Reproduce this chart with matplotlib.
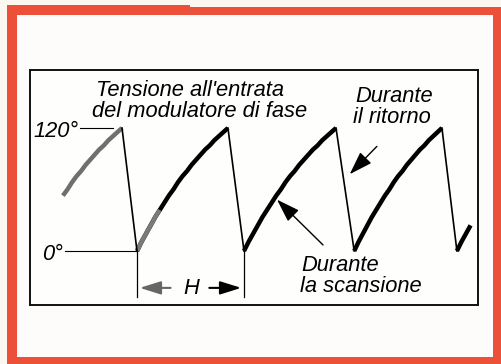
import matplotlib.pyplot as plt
from matplotlib.patches import Rectangle
from matplotlib import font_manager as fm

# one sweep of the sawtooth:
# fraction of the rise time -> phase in degrees (same shape every cycle)
rise_frac = [0, .05, .10, .15, .20, .25, .30, .35, .40, .45, .50,
             .55, .60, .65, .70, .75, .80, .85, .90, .95, 1.0]
rise_v = [0, 9, 17, 25, 33, 40, 47, 54, 60, 67, 73,
          78, 84, 89, 94, 99, 103, 108, 112, 116, 120]

# time in units of H (0 = first trough under the H bracket)
trough_t = [-0.99, 0.00, 1.00, 2.03, 2.99]
peak_t = [-0.14, 0.85, 1.86, 2.85, 3.84]
first_visible = 7    # first sweep enters the box part way up
last_visible = 4     # last sweep is cut by the box edge
arc_colors = ['#6f6f6f', 'black', 'black', 'black', 'black']

level_deg = [120, 0]
level_labels = ['120°', '0°']
level_from = [-0.53, -0.67]   # little reference lines
level_to = [-0.22, 0.0]

H_start, H_end = 0.0, 1.0

title_lines = ["Tensione all'entrata", "del modulatore di fase"]
note_retrace = ['Durante', 'il ritorno']
note_scan = ['Durante', 'la scansione']

RED = '#ec5039'


def has_italic(fam):
    try:
        p = fm.findfont(fm.FontProperties(family=fam, style='italic'),
                        fallback_to_default=False).lower()
    except Exception:
        return False
    return 'italic' in p or 'oblique' in p


# narrowish italic lettering, first one that really has an italic
fam = 'DejaVu Sans'
for cand in ['Liberation Sans', 'Roboto', 'Lato']:
    if has_italic(cand):
        fam = cand
        break
txt = dict(family=fam, style='italic', fontsize=16)

fig = plt.figure(figsize=(5.02, 3.64), dpi=100)
fig.patch.set_facecolor('#fbf8f1')

# red frame of the page (pixel units from top left)
W, Hp = 502.0, 364.0
def fig_rect(x0, y0, x1, y1, **kw):
    fig.patches.append(Rectangle((x0 / W, 1 - y1 / Hp), (x1 - x0) / W, (y1 - y0) / Hp,
                                 transform=fig.transFigure, zorder=-1, **kw))

fig_rect(17, 15, 493, 357, color='#fdfcfa')
fig_rect(7, 5, 190, 15, color=RED, lw=0)
fig_rect(190, 7, 501, 15, color=RED, lw=0)
fig_rect(7, 5, 17, 364, color=RED, lw=0)
fig_rect(493, 7, 501, 364, color=RED, lw=0)
fig_rect(7, 357, 501, 364, color=RED, lw=0)

# inner box = the axes
ax = fig.add_axes([30 / W, 1 - 305 / Hp, 448 / W, 235 / Hp])
ax.set_facecolor('#fefefd')
ax.set_xlim(-1.0, 3.187)
ax.set_ylim(-52.7, 176.6)
ax.set_xticks([])
ax.set_yticks([])
for s in ax.spines.values():
    s.set_linewidth(1.4)
    s.set_color('#111111')

# scan (thick) and retrace (thin)
arcs = []
for i, (t0, t1) in enumerate(zip(trough_t, peak_t)):
    t = [t0 + f * (t1 - t0) for f in rise_frac]
    v = list(rise_v)
    if i == 0:
        t, v = t[first_visible:], v[first_visible:]
    if i == len(trough_t) - 1:
        t, v = t[:last_visible], v[:last_visible]
    arcs.append((t, v))
    ax.plot(t, v, color=arc_colors[i], lw=3.2, solid_capstyle='butt',
            solid_joinstyle='round')
# the start of the second sweep also printed grey
ax.plot(arcs[1][0][:6], arcs[1][1][:6], color='#7a7a7a', lw=3.2, solid_capstyle='butt')

for i in range(len(arcs) - 1):
    ax.plot([arcs[i][0][-1], arcs[i + 1][0][0]], [arcs[i][1][-1], arcs[i + 1][1][0]],
            color='black', lw=1.2)

texts = []
# reference levels
for lv, lab, x0, x1 in zip(level_deg, level_labels, level_from, level_to):
    ax.plot([x0, x1], [lv, lv], color='black', lw=0.8)
    texts.append(ax.text(x0 - 0.02, lv - 3, lab, ha='right', va='center', **txt))

# period H
for x in (H_start, H_end):
    ax.plot([x, x], [0, -45], color='black', lw=0.9)
ahead = '-|>,head_length=0.8,head_width=0.25'
ax.annotate('', xy=(H_start, -36), xytext=(0.34, -36),
            arrowprops=dict(arrowstyle=ahead, color='#666666', lw=1.5, mutation_scale=16))
ax.annotate('', xy=(H_end, -36), xytext=(0.65, -36),
            arrowprops=dict(arrowstyle=ahead, color='black', lw=1.5, mutation_scale=16))
texts.append(ax.text(0.51, -37, 'H', ha='center', va='center', **txt))

# labels
title = ax.text(-0.383, 151, title_lines[0], va='baseline', **txt)
texts.append(title)
texts.append(ax.text(-0.42, 130.5, title_lines[1], va='baseline', **txt))
texts.append(ax.text(2.04, 145.5, note_retrace[0], va='baseline', **txt))
texts.append(ax.text(2.02, 125, note_retrace[1], va='baseline', **txt))
texts.append(ax.text(1.54, -19.5, note_scan[0], va='baseline', **txt))
texts.append(ax.text(1.52, -40, note_scan[1], va='baseline', **txt))

ahead2 = '-|>,head_length=0.9,head_width=0.3'
ax.annotate('', xy=(1.97, 73), xytext=(2.26, 104),
            arrowprops=dict(arrowstyle=ahead2, color='black', lw=1.0, mutation_scale=16))
ax.annotate('', xy=(1.29, 52), xytext=(1.757, 4),
            arrowprops=dict(arrowstyle=ahead2, color='black', lw=1.0, mutation_scale=16))

# whatever font we got, size it so the first title line is about as wide as in the scan
fig.canvas.draw()
w = title.get_window_extent().width
scale = 189.0 / w
for tx in texts:
    tx.set_fontsize(tx.get_fontsize() * scale)

plt.savefig('out.png', dpi=100, facecolor=fig.get_facecolor())
